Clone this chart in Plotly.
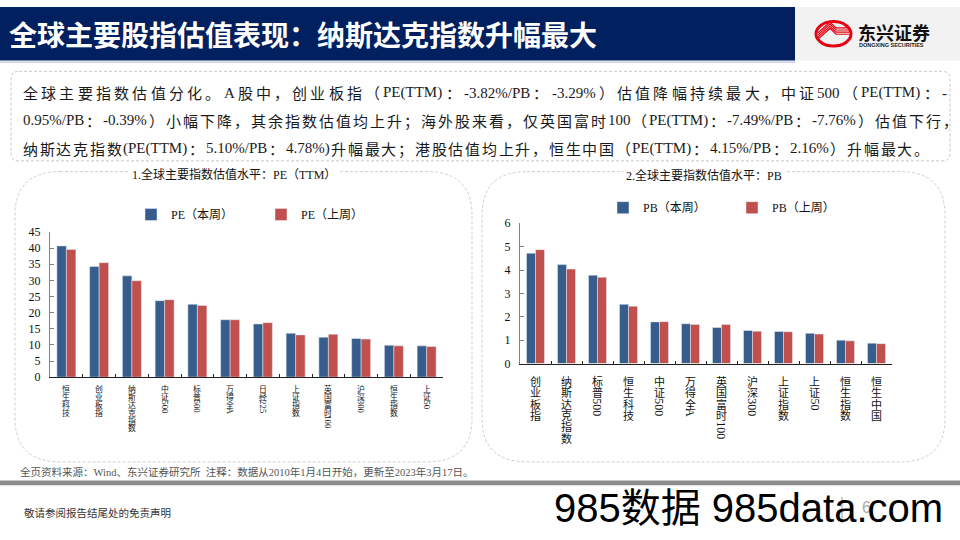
import plotly.graph_objects as go

W, H = 960, 540

# ---------------- data ----------------
pe_categories = ["恒生科技", "创业板指", "纳斯达克指数", "中证500", "标普500", "万得全A",
                 "日经225", "上证指数", "英国富时100", "沪深300", "恒生指数", "上证50"]
pe_this_week = [40.7, 34.3, 31.4, 23.7, 22.6, 17.8, 16.5, 13.6, 12.4, 12.0, 9.9, 9.7]
pe_last_week = [39.6, 35.5, 29.9, 24.0, 22.2, 17.8, 16.9, 13.1, 13.3, 11.8, 9.7, 9.5]
pe_ticks = [0, 5, 10, 15, 20, 25, 30, 35, 40, 45]

pb_categories = ["创业板指", "纳斯达克指数", "标普500", "恒生科技", "中证500", "万得全A",
                 "英国富时100", "沪深300", "上证指数", "上证50", "恒生指数", "恒生中国"]
pb_this_week = [4.72, 4.23, 3.78, 2.53, 1.78, 1.70, 1.54, 1.41, 1.37, 1.29, 1.00, 0.87]
pb_last_week = [4.87, 4.04, 3.69, 2.45, 1.79, 1.67, 1.67, 1.38, 1.36, 1.26, 0.97, 0.85]
pb_ticks = [0, 1, 2, 3, 4, 5, 6]

title_text = "全球主要股指估值表现：纳斯达克指数升幅最大"
summary_lines = [
    "全球主要指数估值分化。A股中，创业板指（PE(TTM)：-3.82%/PB：-3.29%）估值降幅持续最大，中证500（PE(TTM)：-",
    "0.95%/PB：-0.39%）小幅下降，其余指数估值均上升；海外股来看，仅英国富时100（PE(TTM)：-7.49%/PB：-7.76%）估值下行，",
    "纳斯达克指数(PE(TTM)：5.10%/PB：4.78%)升幅最大；港股估值均上升，恒生中国（PE(TTM)：4.15%/PB：2.16%）升幅最大。",
]
summary_right_edges = [946, 957, 928]
chart1_title = "1.全球主要指数估值水平：PE（TTM）"
chart2_title = "2.全球主要指数估值水平：PB"
source_text = "全页资料来源：Wind、东兴证券研究所  注释：数据从2010年1月4日开始，更新至2023年3月17日。"
disclaimer_text = "敬请参阅报告结尾处的免责声明"

BLUE = "#375D8C"
RED = "#C0504D"
SERIF = "Liberation Serif, Noto Sans CJK SC"
CJK = "Noto Sans CJK SC"
LATIN_W = {".": 0.25, "%": 0.833, "/": 0.278, "P": 0.556, "E": 0.611, "T": 0.611, "M": 0.889,
           "B": 0.667, "(": 0.333, ")": 0.333, "-": 0.333, "A": 0.722, " ": 0.25}


def px(x):
    return x / W


def py(y):
    return 1 - y / H


def rrect(x0, y0, x1, y1, r):
    a, b, c, d = px(x0), py(y0), px(x1), py(y1)
    rx, ry = r / W, r / H
    return (f"M{a+rx},{b} L{c-rx},{b} Q{c},{b} {c},{b-ry} L{c},{d+ry} Q{c},{d} {c-rx},{d} "
            f"L{a+rx},{d} Q{a},{d} {a},{d+ry} L{a},{b-ry} Q{a},{b} {a+rx},{b} Z")


def tokenize(s):
    toks = []
    for ch in s:
        if ord(ch) < 128:
            if toks and toks[-1][0] == "a":
                toks[-1][1] += ch
            else:
                toks.append(["a", ch])
        else:
            toks.append(["c", ch])
    return toks


fig = go.Figure()

fig.add_trace(go.Bar(x=pe_categories, y=pe_this_week, name="PE（本周）", marker_color=BLUE,
                     xaxis="x", yaxis="y", legend="legend"))
fig.add_trace(go.Bar(x=pe_categories, y=pe_last_week, name="PE（上周）", marker_color=RED,
                     xaxis="x", yaxis="y", legend="legend"))
fig.add_trace(go.Bar(x=pb_categories, y=pb_this_week, name="PB（本周）", marker_color=BLUE,
                     xaxis="x2", yaxis="y2", legend="legend2"))
fig.add_trace(go.Bar(x=pb_categories, y=pb_last_week, name="PB（上周）", marker_color=RED,
                     xaxis="x2", yaxis="y2", legend="legend2"))

shapes = []
annotations = []

# header
shapes.append(dict(type="rect", xref="paper", yref="paper", x0=0, x1=px(795), y0=py(55), y1=1,
                   fillcolor="#002060", line_width=0, layer="below"))
shapes.append(dict(type="rect", xref="paper", yref="paper", x0=px(795), x1=1, y0=py(55), y1=1,
                   fillcolor="#F2F2F2", line_width=0, layer="below"))
shapes.append(dict(type="line", xref="paper", yref="paper", x0=0, x1=px(795), y0=py(56.5), y1=py(56.5),
                   line=dict(color="#C9CCE3", width=1.5)))
annotations.append(dict(text=title_text, x=px(7), y=py(28), xref="paper", yref="paper",
                        xanchor="left", yanchor="middle", showarrow=False,
                        font=dict(family=CJK, size=28, color="white", weight="bold")))
# logo
shapes.append(dict(type="circle", xref="paper", yref="paper", x0=px(816), x1=px(851), y0=py(40), y1=py(15),
                   line=dict(color="#E60012", width=3)))
for k in range(4):
    o = k * 2.2
    shapes.append(dict(type="path", xref="paper", yref="paper",
                       path=f"M{px(818)},{py(33-o)} L{px(830)},{py(22-o)} L{px(836)},{py(28-o)} L{px(849)},{py(28-o)}",
                       line=dict(color="#E60012", width=1.2)))
annotations.append(dict(text="东兴证券", x=px(857), y=py(25.5), xref="paper", yref="paper",
                        xanchor="left", yanchor="middle", showarrow=False, borderpad=0,
                        font=dict(family=CJK, size=18, color="#111", weight="bold")))
annotations.append(dict(text="DONGXING SECURITIES", x=px(858), y=py(39.5), xref="paper", yref="paper",
                        xanchor="left", yanchor="middle", showarrow=False, borderpad=0,
                        font=dict(family="Liberation Sans", size=5.5, color="#222", weight="bold")))

# summary box (justified lines, token by token)
shapes.append(dict(type="path", xref="paper", yref="paper", path=rrect(11, 66, 950, 158, 8),
                   line=dict(color="#C8C8C8", width=1, dash="3px,2px")))
FS = 15
for i, line in enumerate(summary_lines):
    toks = tokenize(line)
    widths = []
    for kind, s in toks:
        if kind == "c":
            widths.append(FS)
        else:
            widths.append(sum(LATIN_W.get(ch, 0.5) for ch in s) * FS)
    natural = sum(widths)
    x0 = 22
    extra = (summary_right_edges[i] - x0 - natural) / (len(toks) - 1)
    x = x0
    for (kind, s), w in zip(toks, widths):
        annotations.append(dict(text=s, x=px(x), y=py(88 + 28.5 * i), xref="paper", yref="paper",
                                xanchor="left", yanchor="middle", showarrow=False, borderpad=0,
                                font=dict(family=CJK if kind == "c" else "Liberation Serif",
                                          size=FS, color="#1a1a1a")))
        x += w + extra

# chart panels
shapes.append(dict(type="path", xref="paper", yref="paper", path=rrect(15, 169, 472, 467, 45),
                   line=dict(color="#CFCFCF", width=1, dash="3px,2px"), layer="below"))
shapes.append(dict(type="path", xref="paper", yref="paper", path=rrect(482, 169, 945, 467, 45),
                   line=dict(color="#CFCFCF", width=1, dash="3px,2px"), layer="below"))
annotations.append(dict(text=chart1_title, x=px(234), y=py(172), xref="paper", yref="paper",
                        xanchor="center", yanchor="middle", showarrow=False, bgcolor="white",
                        borderpad=2, font=dict(family=SERIF, size=12, color="#111")))
annotations.append(dict(text=chart2_title, x=px(704), y=py(173), xref="paper", yref="paper",
                        xanchor="center", yanchor="middle", showarrow=False, bgcolor="white",
                        borderpad=2, font=dict(family=SERIF, size=12, color="#111")))


def add_vertical_labels(xref, cats, top, pitch, fs):
    for c in cats:
        y = top
        for kind, s in tokenize(c):
            if kind == "c":
                annotations.append(dict(text=s, x=c, xref=xref, y=py(y + pitch / 2), yref="paper",
                                        xanchor="center", yanchor="middle", showarrow=False, borderpad=0,
                                        font=dict(family=CJK, size=fs, color="#111")))
                y += pitch
            else:
                ln = len(s) * fs * 0.52 + 1
                annotations.append(dict(text=s, x=c, xref=xref, y=py(y + ln / 2), yref="paper",
                                        xanchor="center", yanchor="middle", showarrow=False, borderpad=0,
                                        textangle=90,
                                        font=dict(family="Liberation Serif", size=fs + 1, color="#111")))
                y += ln + 1


add_vertical_labels("x", pe_categories, 388, 8.0, 7.8)
add_vertical_labels("x2", pb_categories, 378, 11.7, 11)

# footer
annotations.append(dict(text=source_text, x=px(19), y=py(477), xref="paper", yref="paper",
                        xanchor="left", yanchor="middle", showarrow=False, borderpad=0,
                        font=dict(family=SERIF, size=10.5, color="#555")))
shapes.append(dict(type="rect", xref="paper", yref="paper", x0=0, x1=1, y0=py(491), y1=py(486),
                   fillcolor="#8C8C8C", line_width=0))
annotations.append(dict(text=disclaimer_text, x=px(22), y=py(519), xref="paper", yref="paper",
                        xanchor="left", yanchor="middle", showarrow=False,
                        font=dict(family=CJK, size=10.5, color="#333")))
shapes.append(dict(type="line", xref="paper", yref="paper", x0=px(842), x1=px(842), y0=py(530), y1=py(503),
                   line=dict(color="#999", width=1)))
annotations.append(dict(text="6", x=px(866), y=py(514), xref="paper", yref="paper",
                        xanchor="center", yanchor="middle", showarrow=False, borderpad=0,
                        font=dict(family="Liberation Sans", size=16, color="#aaa")))
annotations.append(dict(text="985数据 985data.com", x=px(552), y=py(514), xref="paper", yref="paper",
                        xanchor="left", yanchor="middle", showarrow=False,
                        font=dict(family="Liberation Sans, Noto Sans CJK SC", size=40, color="#000")))

yaxis_common = dict(showgrid=False, zeroline=False, showline=True, linecolor="#808080", linewidth=1,
                    ticks="inside", ticklen=4, tickcolor="#808080",
                    tickfont=dict(family="Liberation Serif", size=12, color="#111"),
                    ticklabelstandoff=6, fixedrange=True)
xaxis_common = dict(showgrid=False, zeroline=False, showline=True, linecolor="#222", linewidth=1,
                    ticks="inside", ticklen=3, tickcolor="#222", tickson="boundaries",
                    showticklabels=False, fixedrange=True)

fig.update_layout(
    width=W, height=H,
    margin=dict(l=0, r=0, t=0, b=0),
    paper_bgcolor="white", plot_bgcolor="rgba(0,0,0,0)",
    barmode="group", bargap=0.42, bargroupgap=0,
    xaxis=dict(domain=[px(50), px(443)], anchor="y", **xaxis_common),
    yaxis=dict(domain=[py(380), py(231)], anchor="x", range=[0, 45], tickvals=pe_ticks, **yaxis_common),
    xaxis2=dict(domain=[px(520), px(892)], anchor="y2", **xaxis_common),
    yaxis2=dict(domain=[py(366), py(222)], anchor="x2", range=[0, 6], tickvals=pb_ticks, **yaxis_common),
    legend=dict(orientation="h", x=px(131), y=py(213), xanchor="left", yanchor="middle",
                font=dict(family=SERIF, size=12, color="#111"), bgcolor="rgba(0,0,0,0)",
                entrywidth=85, itemclick=False, itemdoubleclick=False),
    legend2=dict(orientation="h", x=px(603), y=py(206), xanchor="left", yanchor="middle",
                 font=dict(family=SERIF, size=12, color="#111"), bgcolor="rgba(0,0,0,0)",
                 entrywidth=84, itemclick=False, itemdoubleclick=False),
    shapes=shapes,
    annotations=annotations,
    showlegend=True,
)

fig.write_html("out.html")
